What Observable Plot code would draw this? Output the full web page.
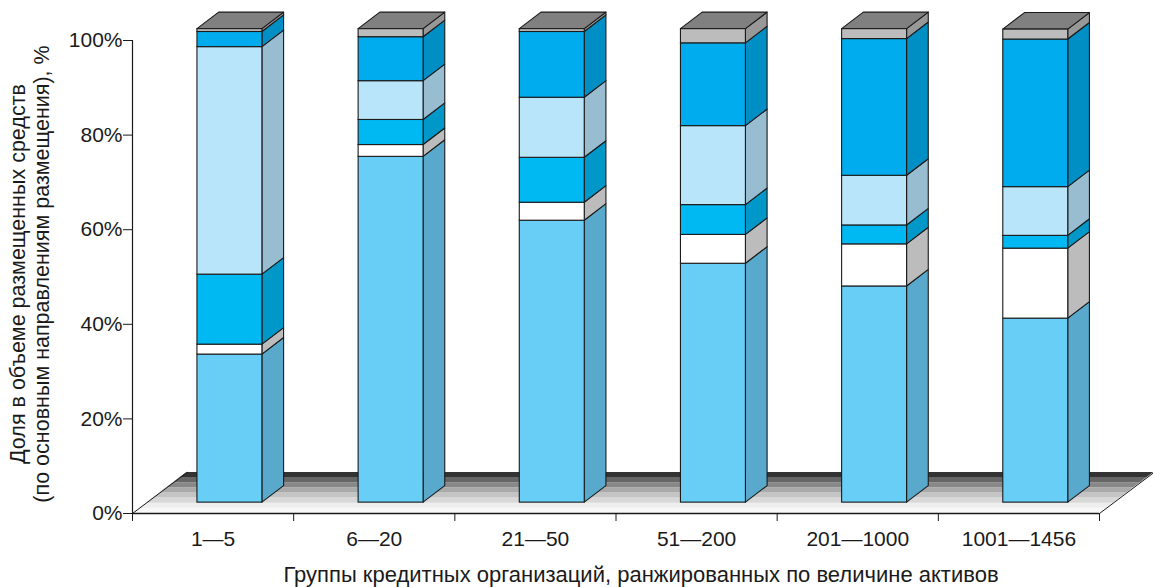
<!DOCTYPE html>
<html><head><meta charset="utf-8">
<script src="https://cdn.jsdelivr.net/npm/d3@7"></script>
<script src="https://cdn.jsdelivr.net/npm/@observablehq/plot@0.6"></script>
<style>html,body{margin:0;padding:0;background:#fff}svg{display:block}</style>
</head><body><div id="chart"></div>
<script>
const categories = ["1—5","6—20","21—50","51—200","201—1000","1001—1456"];
const s1 = [31.3,73.1,59.6,50.5,45.7,38.9];
const s2 = [2.1,2.5,3.8,6.1,8.9,14.8];
const s3 = [14.8,5.3,9.5,6.3,4.0,2.7];
const s4 = [48.1,8.2,12.7,16.7,10.5,10.3];
const s5 = [3.2,9.3,13.9,17.5,28.9,31.2];
const s6 = [0.6,1.7,0.6,3.0,2.1,2.1];
const allSeries = [s1,s2,s3,s4,s5,s6];
const frontColors = ["#69cef6","#ffffff","#00b9f2","#b9e5fa","#00aced","#bcbcbc"];
const sideColors  = ["#58a9cc","#bcbcbc","#0098c8","#98bcd0","#008fc5","#989898"];
const topColor = "#808080";
const floorColors = ["#f8f8f8","#eeeeee","#d8d8d8","#c4c4c4","#aaaaaa","#888888","#666666","#333333"];
const yTicks = [0,20,40,60,80,100];

// Oblique projection in data units
const slotInset = 0.403, barW = 0.403, depthX = 0.1346, depthY = 3.5, base = 2.3;
const floorX = 0.338, floorY = 8.67, nSlots = categories.length;

const fronts = [], sides = [], tops = [];
categories.forEach((c,i)=>{
  let acc = base;
  const xl = i + slotInset, xr = xl + barW;
  allSeries.forEach((s,k)=>{
    const y1 = acc, y2 = acc + s[i]; acc = y2;
    fronts.push({x1:xl,x2:xr,y1,y2,fill:frontColors[k]});
    const z = c+"-"+k;
    sides.push({z,x:xr,y1,y2,fill:sideColors[k]});
    sides.push({z,x:xr+depthX,y1:y1+depthY,y2:y2+depthY,fill:sideColors[k]});
  });
  tops.push({z:c,y:acc,x1:xl,x2:xr});
  tops.push({z:c,y:acc+depthY,x1:xl+depthX,x2:xr+depthX});
});
const floor = [];
floorColors.forEach((f,k)=>{
  const a=k/floorColors.length,b=(k+1)/floorColors.length;
  floor.push({z:k,fill:f,y:a*floorY,x1:a*floorX,x2:nSlots+a*floorX});
  floor.push({z:k,fill:f,y:b*floorY,x1:b*floorX,x2:nSlots+b*floorX});
});
const ink = "#1a1a1a", font = "'Liberation Sans',Arial,sans-serif";
const chart = Plot.plot({
  width:1153,height:587,marginLeft:132,marginRight:54,marginTop:40,marginBottom:74,
  style:{fontFamily:font,background:"#fff",color:"#1a1a1a"},
  x:{domain:[0,nSlots],range:[132,1099],label:null,axis:null},
  y:{domain:[0,100],range:[513,40],label:null,axis:null},
  marks:[
    Plot.areaX(floor,{y:"y",x1:"x1",x2:"x2",z:"z",fill:"fill"}),
    Plot.line([[0,0],[floorX,floorY]],{stroke:ink,strokeWidth:1}),
    Plot.line([[nSlots,0],[nSlots+floorX,floorY]],{stroke:ink,strokeWidth:1}),
    Plot.areaY(sides,{x:"x",y1:"y1",y2:"y2",z:"z",fill:"fill",stroke:ink,strokeWidth:1.1}),
    Plot.areaX(tops,{y:"y",x1:"x1",x2:"x2",z:"z",fill:topColor,stroke:ink,strokeWidth:1.1}),
    Plot.rect(fronts,{x1:"x1",x2:"x2",y1:"y1",y2:"y2",fill:"fill",stroke:ink,strokeWidth:1.1}),
    Plot.axisY({ticks:yTicks,tickSize:9,tickPadding:1,tickFormat:d=>d+"%",fontSize:21,stroke:ink,color:ink,label:null}),
    Plot.ruleX([0],{stroke:ink,strokeWidth:1.2}),
    Plot.ruleY([0],{stroke:ink,strokeWidth:1.5}),
    Plot.axisX({ticks:d3.range(nSlots+1),tickSize:8,tickFormat:()=>"",stroke:ink,label:null}),
    Plot.axisX({ticks:categories.map((c,i)=>i+0.5),tickSize:0,tickPadding:18,tickFormat:v=>categories[Math.floor(v)],fontSize:21,fill:ink,label:null}),
    Plot.text(["Группы кредитных организаций, ранжированных по величине активов"],{frameAnchor:"bottom",dx:25,dy:68,fontSize:22,fill:ink}),
    Plot.text(["Доля в объеме размещенных средств"],{frameAnchor:"left",textAnchor:"middle",rotate:-90,dx:-114,dy:-3,fontSize:21.5,fill:ink}),
    Plot.text(["(по основным направлениям размещения), %"],{frameAnchor:"left",textAnchor:"middle",rotate:-90,dx:-90,dy:-3,fontSize:21.5,fill:ink})
  ]
});
document.getElementById("chart").appendChild(chart);
</script></body></html>
